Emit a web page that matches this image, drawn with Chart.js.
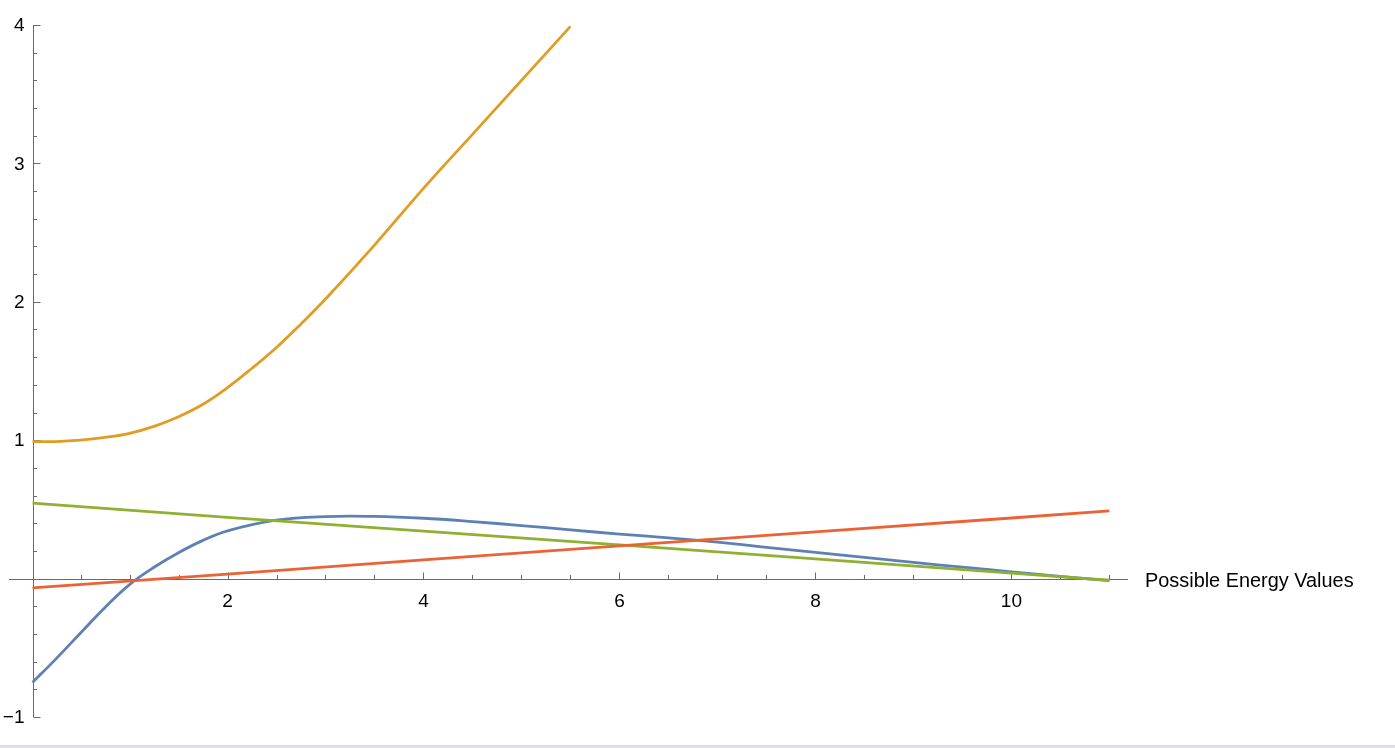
<!DOCTYPE html>
<html>
<head>
<meta charset="utf-8">
<script src="https://cdn.jsdelivr.net/npm/chart.js@4.4.1/dist/chart.umd.min.js"></script>
<style>
  html, body { margin: 0; padding: 0; background: #fff; }
  #wrap { width: 1395px; height: 748px; position: relative; }
</style>
</head>
<body>
<div id="wrap"><canvas id="myChart"></canvas></div>
<script>
// curves
var blueX = [0.01, 0.25, 0.5, 0.75, 1, 1.25, 1.5, 1.75, 2, 2.5, 3, 3.5, 4, 4.5, 5, 5.5, 6, 6.5, 7, 7.5, 8, 8.5, 9, 9.5, 10, 10.5, 11];
var blueY = [-0.75, -0.58, -0.393, -0.208, -0.043, 0.082, 0.187, 0.276, 0.345, 0.422, 0.448, 0.449, 0.436, 0.412, 0.383, 0.352, 0.322, 0.295, 0.263, 0.226, 0.19, 0.153, 0.117, 0.083, 0.049, 0.016, -0.015];

var orangeX = [0.01, 0.25, 0.5, 0.75, 1, 1.25, 1.5, 1.75, 2, 2.25, 2.5, 2.75, 3, 3.5, 4, 4.5, 5, 5.5];
var orangeY = [0.99, 0.99, 1.0, 1.02, 1.05, 1.1, 1.17, 1.26, 1.38, 1.52, 1.67, 1.84, 2.02, 2.41, 2.82, 3.21, 3.6, 3.99];

var greenX = [0.01, 2, 4, 6, 8, 10, 11];
var greenY = [0.545, 0.443, 0.343, 0.243, 0.142, 0.04, -0.012];

var redX = [0.01, 2, 4, 6, 8, 10, 11];
var redY = [-0.067, 0.033, 0.135, 0.236, 0.337, 0.438, 0.489];

var xTickLabels = [2, 4, 6, 8, 10];
var yTickLabels = [-1, 1, 2, 3, 4];
var xAxisTitle = 'Possible Energy Values';
var axisOriginX = 0.015;

function pts(xs, ys) {
    return xs.map(function (x, i) { return { x: x, y: ys[i] }; });
}

var axesPlugin = {
    id: 'mmaAxes',
    beforeDatasetsDraw: function (chart) {
        var ctx = chart.ctx, xs = chart.scales.x, ys = chart.scales.y;
        var x0 = Math.round(xs.getPixelForValue(axisOriginX)) + 0.5;
        var y0 = Math.round(ys.getPixelForValue(0)) + 0.5;
        ctx.save();
        ctx.strokeStyle = '#6a6a6a';
        ctx.lineWidth = 1;
        ctx.beginPath();
        ctx.moveTo(xs.left, y0); ctx.lineTo(xs.right, y0);
        ctx.moveTo(x0, ys.top); ctx.lineTo(x0, ys.bottom);
        // x ticks, minor every 0.5, major every 2
        for (var k = 1; k <= 22; k++) {
            var v = k / 2;
            var px = Math.round(xs.getPixelForValue(v)) + 0.5;
            var len = (v % 2 === 0) ? 7 : 4.5;
            ctx.moveTo(px, y0); ctx.lineTo(px, y0 - len);
        }
        // y ticks, minor every 0.2, major every 1
        for (var j = -5; j <= 20; j++) {
            if (j === 0) continue;
            var py = Math.round(ys.getPixelForValue(j / 5)) + 0.5;
            var l2 = (j % 5 === 0) ? 7 : 3.5;
            ctx.moveTo(x0, py); ctx.lineTo(x0 + l2, py);
        }
        ctx.stroke();

        ctx.fillStyle = '#000';
        ctx.font = '19px "Liberation Sans", Arial, sans-serif';
        ctx.textAlign = 'center';
        ctx.textBaseline = 'alphabetic';
        xTickLabels.forEach(function (v) {
            ctx.fillText(String(v), xs.getPixelForValue(v), y0 + 27);
        });
        ctx.textAlign = 'right';
        ctx.textBaseline = 'middle';
        yTickLabels.forEach(function (v) {
            var s = v < 0 ? '\u2212' + Math.abs(v) : String(v);
            ctx.fillText(s, x0 - 9, ys.getPixelForValue(v) + 1);
        });
        ctx.textAlign = 'left';
        ctx.textBaseline = 'alphabetic';
        ctx.font = '19.9px "Liberation Sans", Arial, sans-serif';
        ctx.fillText(xAxisTitle, xs.right + 17, y0 + 7);

        // strip at the bottom of the window
        ctx.fillStyle = '#dcdee1';
        ctx.fillRect(0, chart.height - 3, chart.width, 3);
        ctx.restore();
    }
};

var config = {
    type: 'line',
    data: {
        datasets: [{
            label: 'blue',
            data: pts(blueX, blueY),
            borderColor: '#5e81b5',
            tension: 0.4,
            order: 3
        }, {
            label: 'orange',
            data: pts(orangeX, orangeY),
            borderColor: '#e19c24',
            tension: 0.4,
            order: 2
        }, {
            label: 'green',
            data: pts(greenX, greenY),
            borderColor: '#8fb032',
            order: 1
        }, {
            label: 'red',
            data: pts(redX, redY),
            borderColor: '#eb6235',
            order: 0
        }]
    },
    options: {
        responsive: true,
        maintainAspectRatio: false,
        animation: false,
        layout: { padding: { left: 9, right: 267, top: 25, bottom: 31 } },
        elements: {
            point: { radius: 0 },
            line: { borderWidth: 2.8, fill: false, capBezierPoints: true }
        },
        scales: {
            x: { type: 'linear', min: -0.23, max: 11.19, display: false },
            y: { type: 'linear', min: -1, max: 4, display: false }
        },
        plugins: {
            legend: { display: false },
            tooltip: { enabled: false }
        }
    },
    plugins: [axesPlugin]
};

window.onload = function () {
    var ctx = document.getElementById('myChart');
    window.myPlot = new Chart(ctx, config);
};
</script>
</body>
</html>
